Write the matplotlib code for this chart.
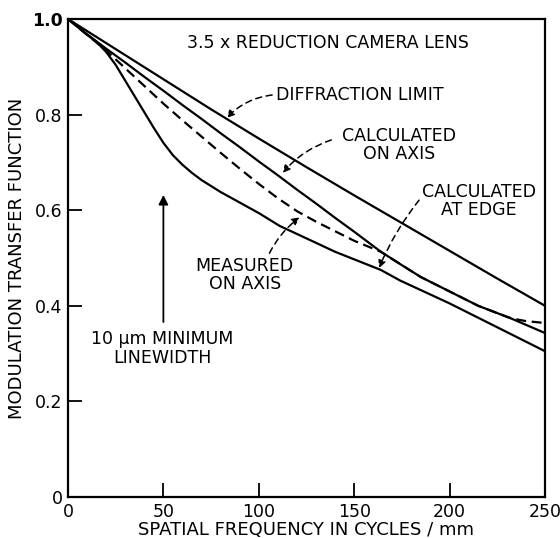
import matplotlib
matplotlib.use('Agg')
import matplotlib.pyplot as plt

# Diffraction limit (top solid curve)
diff_freq = [0, 25, 50, 75, 100, 125, 150, 175, 200, 225, 250]
diff_mtf = [1.0, 0.937, 0.874, 0.811, 0.750, 0.690, 0.631, 0.573, 0.515, 0.457, 0.400]

# Calculated on axis (second solid curve)
axis_calc_freq = [0, 10, 20, 30, 40, 50, 60, 70, 80, 90, 100, 110, 120, 130, 140, 150,
                  164, 175, 185, 200, 215, 232, 250]
axis_calc_mtf = [1.0, 0.968, 0.938, 0.909, 0.879, 0.85, 0.82, 0.791, 0.761, 0.732, 0.702, 0.673,
                 0.643, 0.614, 0.584, 0.555, 0.513, 0.485, 0.46, 0.43, 0.40, 0.374, 0.343]

# Measured on axis (dashed curve)
axis_meas_freq = [0, 10, 20, 30, 40, 50, 60, 70, 80, 90, 100, 110, 120, 130, 140, 150,
                  164, 175, 185, 200, 215, 232, 240, 250]
axis_meas_mtf = [1.0, 0.967, 0.934, 0.897, 0.86, 0.823, 0.788, 0.754, 0.72, 0.687, 0.655, 0.625,
                 0.598, 0.576, 0.556, 0.536, 0.513, 0.485, 0.46, 0.43, 0.40, 0.374, 0.368, 0.364]

# Calculated at edge (lowest solid curve)
edge_freq = [0, 10, 15, 20, 25, 30, 35, 40, 45, 50, 55, 60, 65, 70, 80, 90, 100, 111, 125, 140,
             164, 174, 200, 225, 250]
edge_mtf = [1.0, 0.967, 0.952, 0.931, 0.904, 0.871, 0.838, 0.805, 0.772, 0.741, 0.715, 0.695,
            0.678, 0.663, 0.638, 0.616, 0.594, 0.567, 0.541, 0.513, 0.475, 0.453, 0.405, 0.355,
            0.305]

x_ticks = [0, 50, 100, 150, 200, 250]
y_ticks = [0, 0.2, 0.4, 0.6, 0.8, 1.0]
y_tick_labels = ['0', '0.2', '0.4', '0.6', '0.8', '1.0']


def dashed_arrow(ax, text_xy, tip_xy, rad):
    ax.annotate('', xy=tip_xy, xytext=text_xy,
                arrowprops=dict(arrowstyle='-|>', color='black', lw=1.1,
                                linestyle=(0, (4, 3)), mutation_scale=11,
                                shrinkA=0, shrinkB=0,
                                connectionstyle=f'arc3,rad={rad}'))


def main():
    plt.rcParams['font.family'] = 'DejaVu Sans'
    fig = plt.figure(figsize=(5.6, 5.38), dpi=100)
    ax = fig.add_axes([0.1214, 0.0762, 0.8518, 0.8885])

    lw = 1.6
    ax.plot(diff_freq, diff_mtf, color='black', lw=lw)
    ax.plot(axis_calc_freq, axis_calc_mtf, color='black', lw=lw)
    ax.plot(axis_meas_freq, axis_meas_mtf, color='black', lw=lw, linestyle=(0, (4.5, 2.5)))
    ax.plot(edge_freq, edge_mtf, color='black', lw=lw)

    ax.set_xlim(0, 250)
    ax.set_ylim(0, 1.0)
    ax.set_xticks(x_ticks)
    ax.set_yticks(y_ticks)
    ax.set_yticklabels(y_tick_labels)
    ax.get_yticklabels()[-1].set_fontweight('bold')
    ax.tick_params(direction='in', length=10, width=1.3, labelsize=12.5, pad=4)
    for spine in ax.spines.values():
        spine.set_linewidth(1.6)

    ax.set_xlabel('SPATIAL FREQUENCY IN CYCLES / mm', fontsize=13, labelpad=0)
    ax.set_ylabel('MODULATION TRANSFER FUNCTION', fontsize=13, labelpad=4)

    # Labels inside the plot
    fs = 12.5
    ax.text(136.5, 0.95, '3.5 x REDUCTION CAMERA LENS', ha='center', va='center', fontsize=fs)
    ax.text(153, 0.841, 'DIFFRACTION LIMIT', ha='center', va='center', fontsize=fs)
    ax.text(173.6, 0.736, 'CALCULATED\nON AXIS', ha='center', va='center', fontsize=fs,
            linespacing=1.0)
    ax.text(215.5, 0.619, 'CALCULATED\nAT EDGE', ha='center', va='center', fontsize=fs,
            linespacing=1.0)
    ax.text(92.6, 0.465, 'MEASURED\nON AXIS', ha='center', va='center', fontsize=fs,
            linespacing=1.0)
    ax.text(49.5, 0.31, '10 μm MINIMUM\nLINEWIDTH', ha='center', va='center', fontsize=fs,
            linespacing=1.05)

    # Pointer arrows
    dashed_arrow(ax, (107, 0.841), (83.2, 0.793), 0.18)
    dashed_arrow(ax, (138, 0.747), (112.5, 0.678), 0.14)
    dashed_arrow(ax, (184, 0.621), (163, 0.479), 0.07)
    dashed_arrow(ax, (105.6, 0.51), (121.4, 0.585), -0.12)

    ax.annotate('', xy=(50, 0.632), xytext=(50, 0.366),
                arrowprops=dict(arrowstyle='-|>', color='black', lw=1.3,
                                mutation_scale=14, shrinkA=0, shrinkB=0))

    fig.savefig('out.png', dpi=100)


if __name__ == "__main__":
    main()
